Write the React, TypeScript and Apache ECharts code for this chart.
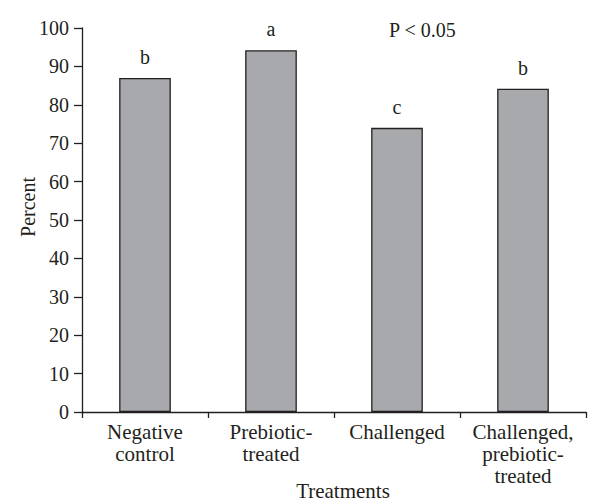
import React, { useEffect, useRef } from "react";
import * as echarts from "echarts";

const categories = ["Negative\ncontrol", "Prebiotic-\ntreated", "Challenged", "Challenged,\nprebiotic-\ntreated"];
const values = [87, 94.2, 74, 84.2];
const letters = ["b", "a", "c", "b"];
const yTicks = [0, 10, 20, 30, 40, 50, 60, 70, 80, 90, 100];

const FONT = "Liberation Serif";
const INK = "#231f20";

export default function App() {
  const ref = useRef<HTMLDivElement>(null);
  useEffect(() => {
    const chart = echarts.init(ref.current!, null, { renderer: "svg" });
    chart.setOption({
      animation: false,
      grid: { left: 82, right: 6, top: 28, bottom: 91, containLabel: false, outerBoundsMode: "none" },
      xAxis: {
        type: "category",
        data: categories,
        boundaryGap: true,
        axisLine: { lineStyle: { color: INK, width: 1.3 } },
        axisTick: { show: true, length: 6, lineStyle: { color: INK, width: 1.3 }, alignWithLabel: false },
        axisLabel: { fontFamily: FONT, fontSize: 21, color: INK, lineHeight: 22, margin: 9, interval: 0 },
      },
      yAxis: {
        type: "value",
        min: yTicks[0],
        max: yTicks[yTicks.length - 1],
        interval: 10,
        axisLine: { show: true, lineStyle: { color: INK, width: 1.3 } },
        axisTick: { show: true, length: 8, lineStyle: { color: INK, width: 1.3 } },
        axisLabel: { fontFamily: FONT, fontSize: 20, color: INK, margin: 13 },
        splitLine: { show: false },
      },
      series: [
        {
          type: "bar",
          data: values,
          barWidth: "41%",
          itemStyle: { color: "#a7a9ac", borderColor: INK, borderWidth: 1.3 },
          label: {
            show: true,
            position: "top",
            distance: 11,
            fontFamily: FONT,
            fontSize: 20,
            color: INK,
            formatter: (p: any) => letters[p.dataIndex],
          },
        },
      ],
      graphic: [
        {
          type: "text",
          left: 389,
          top: 20,
          style: { text: "P < 0.05", fontFamily: FONT, fontSize: 20, fill: INK },
        },
        {
          type: "text",
          x: 343,
          y: 491,
          style: { text: "Treatments", fontFamily: FONT, fontSize: 21, fill: INK, textAlign: "center", textVerticalAlign: "middle" },
        },
        {
          type: "text",
          x: 28,
          y: 207,
          rotation: Math.PI / 2,
          style: { text: "Percent", fontFamily: FONT, fontSize: 20, fill: INK, textAlign: "center", textVerticalAlign: "middle" },
        },
      ],
    });
    return () => chart.dispose();
  }, []);
  return <div ref={ref} style={{ width: 592, height: 503, position: "absolute", left: 0, top: 0 }} />;
}
